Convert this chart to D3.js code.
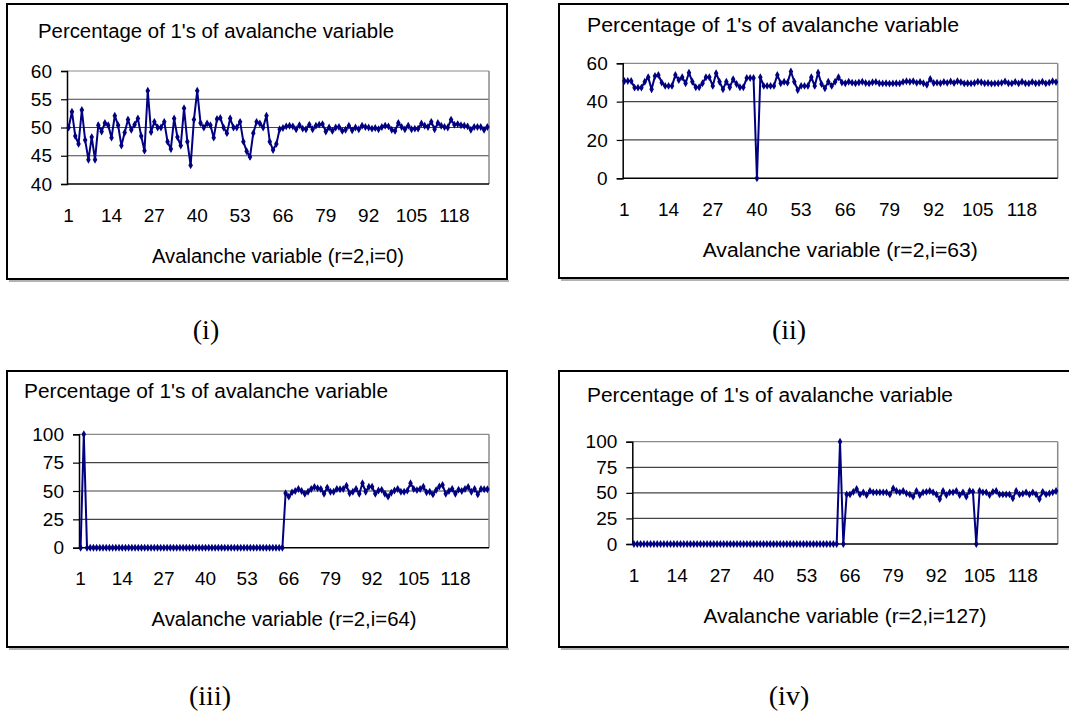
<!DOCTYPE html>
<meta charset="utf-8">
<style>
    body {
        margin: 0;
        background-color: white;
    }
    svg {
        background-color: white;
    }
    text {
        font-family: Arial, "Liberation Sans", sans-serif;
        fill: black;
    }
    .caption {
        font-family: "Times New Roman", "Liberation Serif", serif;
    }
    .series {
        fill: none;
        stroke: #000080;
        stroke-width: 2;
    }
</style>
<svg width="1069" height="716"></svg>
<script src="https://d3js.org/d3.v7.min.js"></script>
<script>
    // ---- data ----
    var categories = d3.range(1, 129);
    var xTickLabels = [1, 14, 27, 40, 53, 66, 79, 92, 105, 118];

    var yTicksI = [40, 45, 50, 55, 60];
    var yTicksII = [0, 20, 40, 60];
    var yTicksIII = [0, 25, 50, 75, 100];
    var yTicksIV = [0, 25, 50, 75, 100];

    var chartTitle = "Percentage of 1's of avalanche variable";
    var xTitles = ["Avalanche variable (r=2,i=0)", "Avalanche variable (r=2,i=63)",
        "Avalanche variable (r=2,i=64)", "Avalanche variable (r=2,i=127)"];
    var captions = ["(i)", "(ii)", "(iii)", "(iv)"];

    var seriesI = [
        50.0, 52.8, 48.5, 47.1, 53.1, 47.8, 44.3, 48.3, 44.3, 50.4,
        49.3, 50.8, 50.4, 48.2, 52.1, 50.4, 46.8, 49.1, 51.4, 49.6,
        50.5, 51.6, 48.5, 45.9, 56.5, 49.2, 51.0, 50.0, 50.0, 51.0,
        47.5, 46.2, 51.6, 48.3, 46.8, 53.4, 47.5, 43.3, 51.4, 56.5,
        50.8, 50.0, 50.7, 50.4, 48.2, 51.5, 51.7, 50.0, 49.0, 51.6,
        50.0, 50.0, 51.0, 47.5, 45.8, 44.8, 49.0, 51.0, 50.7, 50.0,
        52.1, 47.5, 46.0, 47.1, 49.7, 49.9, 50.2, 50.3, 50.2, 49.7,
        50.4, 49.8, 49.7, 50.5, 49.7, 50.3, 50.5, 50.6, 49.3, 50.0,
        49.4, 50.0, 50.1, 49.4, 49.6, 50.3, 49.5, 50.0, 49.7, 50.3,
        50.1, 50.0, 49.8, 49.9, 49.7, 50.1, 50.3, 50.2, 49.6, 49.4,
        50.8, 50.1, 49.7, 50.3, 49.7, 49.8, 49.8, 50.7, 50.3, 50.1,
        51.0, 49.7, 50.8, 50.3, 50.1, 50.0, 51.4, 50.5, 50.6, 50.4,
        50.3, 50.2, 49.6, 50.1, 50.1, 50.1, 49.6, 50.1
    ];

    var seriesII = [
        50.8, 50.8, 50.8, 47.3, 47.3, 47.3, 50.4, 52.7, 46.4, 53.4,
        53.9, 49.9, 48.2, 48.2, 48.2, 53.9, 51.3, 52.7, 49.6, 55.1,
        50.4, 47.5, 47.5, 49.6, 52.7, 52.7, 48.2, 54.8, 50.4, 46.4,
        50.4, 47.5, 51.7, 49.2, 47.5, 47.5, 52.3, 52.3, 52.3, 0,
        52.7, 48.2, 48.2, 48.2, 48.2, 53.9, 49.6, 50.4, 49.9, 55.7,
        50.4, 46.1, 48.2, 48.2, 48.2, 52.7, 48.2, 55.1, 49.2, 47.0,
        50.4, 48.2, 50.4, 52.7, 50.0, 49.6, 50.4, 49.9, 49.6, 50.0,
        50.4, 49.7, 49.5, 50.1, 50.3, 49.6, 49.5, 49.6, 49.4, 49.5,
        49.6, 49.5, 50.3, 50.6, 50.4, 50.6, 49.8, 50.3, 49.6, 48.8,
        51.8, 49.7, 49.9, 49.6, 50.3, 49.8, 50.5, 49.7, 50.6, 50.2,
        49.5, 49.6, 49.5, 49.7, 50.4, 50.1, 49.6, 49.7, 49.4, 49.5,
        49.6, 49.8, 50.5, 49.6, 49.5, 50.3, 49.5, 50.4, 49.6, 49.5,
        50.3, 49.6, 49.7, 50.4, 49.5, 49.9, 50.6, 50.2
    ];

    var seriesIII = [
        0, 100, 0, 0, 0, 0, 0, 0, 0, 0,
        0, 0, 0, 0, 0, 0, 0, 0, 0, 0,
        0, 0, 0, 0, 0, 0, 0, 0, 0, 0,
        0, 0, 0, 0, 0, 0, 0, 0, 0, 0,
        0, 0, 0, 0, 0, 0, 0, 0, 0, 0,
        0, 0, 0, 0, 0, 0, 0, 0, 0, 0,
        0, 0, 0, 0, 48.0, 45.0, 48.8, 50.0, 51.8, 50.0,
        47.6, 49.4, 51.8, 53.5, 52.4, 51.8, 47.6, 53.0, 49.4, 49.4,
        51.8, 51.5, 51.8, 54.7, 48.0, 49.4, 51.8, 47.6, 56.8, 49.4,
        53.8, 53.8, 47.6, 50.5, 51.0, 47.6, 45.0, 48.5, 50.5, 51.8,
        49.4, 49.4, 50.3, 56.8, 51.8, 50.8, 51.8, 53.8, 48.8, 49.4,
        47.0, 50.8, 54.0, 55.3, 47.6, 50.0, 51.8, 47.6, 51.2, 50.0,
        51.8, 53.5, 49.4, 51.8, 47.0, 51.8, 51.5, 51.5
    ];

    var seriesIV = [
        0, 0, 0, 0, 0, 0, 0, 0, 0, 0,
        0, 0, 0, 0, 0, 0, 0, 0, 0, 0,
        0, 0, 0, 0, 0, 0, 0, 0, 0, 0,
        0, 0, 0, 0, 0, 0, 0, 0, 0, 0,
        0, 0, 0, 0, 0, 0, 0, 0, 0, 0,
        0, 0, 0, 0, 0, 0, 0, 0, 0, 0,
        0, 0, 100, 0, 48.5, 48.5, 51.0, 53.7, 48.5, 50.5,
        47.9, 51.8, 50.5, 50.5, 50.5, 50.5, 50.5, 48.5, 54.4, 51.8,
        50.5, 51.8, 49.5, 48.5, 46.3, 51.8, 47.9, 50.5, 51.0, 51.8,
        50.5, 48.5, 44.0, 51.8, 47.9, 50.5, 50.5, 51.8, 47.9, 50.5,
        46.3, 51.8, 51.0, 0, 51.8, 50.5, 50.5, 47.9, 51.0, 51.8,
        48.5, 48.5, 48.5, 48.5, 44.6, 51.8, 48.5, 49.2, 50.5, 48.5,
        50.5, 48.5, 44.0, 51.0, 48.5, 49.5, 50.5, 51.8
    ];

    // ---- layout of the four panels ----
    // the right hand boxes run past the edge of the page, as in the scan
    var panels = [
        {values: seriesI, ticks: yTicksI, box: [7, 4, 500, 275], plot: [67, 71, 489, 184],
            title: [38, 38, 356], xTitleW: 252, cap: [206, 339]},
        {values: seriesII, ticks: yTicksII, box: [559, 4, 514, 274], plot: [622.7, 63.3, 1057.7, 178.3],
            title: [587, 32, 372], xTitleW: 275, cap: [789, 339]},
        {values: seriesIII, ticks: yTicksIII, box: [7, 371, 500, 276], plot: [79, 434.3, 489, 547.7],
            title: [24, 398, 364], xTitleW: 265, cap: [210, 705]},
        {values: seriesIV, ticks: yTicksIV, box: [559, 371, 514, 276], plot: [632.3, 441.7, 1057.7, 544],
            title: [587, 402, 366], xTitleW: 283, cap: [789, 705]}
    ];

    var svg = d3.select("svg");

    panels.forEach(function (p, i) {
        var g = svg.append("g");
        var left = p.plot[0], top = p.plot[1], right = p.plot[2], bottom = p.plot[3];

        // chart area border, with the faint shadow under it
        g.append("line")
            .attr("x1", p.box[0] + 2).attr("x2", p.box[0] + p.box[2] + 2)
            .attr("y1", p.box[1] + p.box[3] + 2).attr("y2", p.box[1] + p.box[3] + 2)
            .attr("stroke", "#999").attr("stroke-width", 1.5);
        g.append("rect")
            .attr("x", p.box[0]).attr("y", p.box[1])
            .attr("width", p.box[2]).attr("height", p.box[3])
            .attr("fill", "white")
            .attr("stroke", "black")
            .attr("stroke-width", 2);

        g.append("text")
            .attr("x", p.title[0]).attr("y", p.title[1])
            .attr("textLength", p.title[2])
            .attr("lengthAdjust", "spacingAndGlyphs")
            .style("font-size", "20px")
            .text(chartTitle);

        var x = d3.scaleBand().domain(categories).range([left, right]);
        var y = d3.scaleLinear()
            .domain([d3.min(p.ticks), d3.max(p.ticks)])
            .range([bottom, top]);

        // gridlines
        g.selectAll(".grid")
            .data(p.ticks.slice(1))
            .enter().append("line")
            .attr("x1", left).attr("x2", right)
            .attr("y1", function (d) { return y(d); })
            .attr("y2", function (d) { return y(d); })
            .attr("stroke", function (d, j) { return j == p.ticks.length - 2 ? "#8a8a8a" : "#444"; })
            .attr("stroke-width", 1.2);

        // right border of plot area
        g.append("line")
            .attr("x1", right).attr("x2", right)
            .attr("y1", top).attr("y2", bottom)
            .attr("stroke", "#8a8a8a").attr("stroke-width", 1.5);

        var yAxis = g.append("g")
            .attr("transform", "translate(" + left + ",0)")
            .call(d3.axisLeft(y).tickValues(p.ticks).tickSize(6).tickPadding(9).tickFormat(d3.format("d")));
        yAxis.select(".domain").attr("stroke", "black").attr("stroke-width", 1.5);
        yAxis.selectAll(".tick line").attr("stroke", "black").attr("stroke-width", 1.2);
        yAxis.selectAll("text")
            .style("font-size", "19px")
            .style("font-family", "Arial, 'Liberation Sans', sans-serif")
            .attr("fill", "black");

        // category axis line
        g.append("line")
            .attr("x1", left).attr("x2", right)
            .attr("y1", bottom).attr("y2", bottom)
            .attr("stroke", "black").attr("stroke-width", 1.5);

        g.selectAll(".xlab")
            .data(xTickLabels)
            .enter().append("text")
            .attr("x", function (d) { return x(d) + x.bandwidth() / 2; })
            .attr("y", bottom + 37.5)
            .attr("text-anchor", "middle")
            .style("font-size", "19px")
            .text(function (d) { return d; });

        var line = d3.line()
            .x(function (d, k) { return x(categories[k]) + x.bandwidth() / 2; })
            .y(function (d) { return y(d); });

        g.append("path")
            .datum(p.values)
            .attr("class", "series")
            .attr("d", line);

        g.selectAll(".marker")
            .data(p.values)
            .enter().append("path")
            .attr("d", d3.symbol().type(d3.symbolDiamond).size(18))
            .attr("fill", "#000080")
            .attr("transform", function (d, k) {
                return "translate(" + (x(categories[k]) + x.bandwidth() / 2) + "," + y(d) + ")";
            });

        g.append("text")
            .attr("x", (left + right) / 2)
            .attr("y", bottom + 78.5)
            .attr("text-anchor", "middle")
            .attr("textLength", p.xTitleW)
            .attr("lengthAdjust", "spacingAndGlyphs")
            .style("font-size", "19.5px")
            .text(xTitles[i]);

        svg.append("text")
            .attr("class", "caption")
            .attr("x", p.cap[0]).attr("y", p.cap[1])
            .attr("text-anchor", "middle")
            .style("font-size", "28px")
            .text(captions[i]);
    });
</script>
